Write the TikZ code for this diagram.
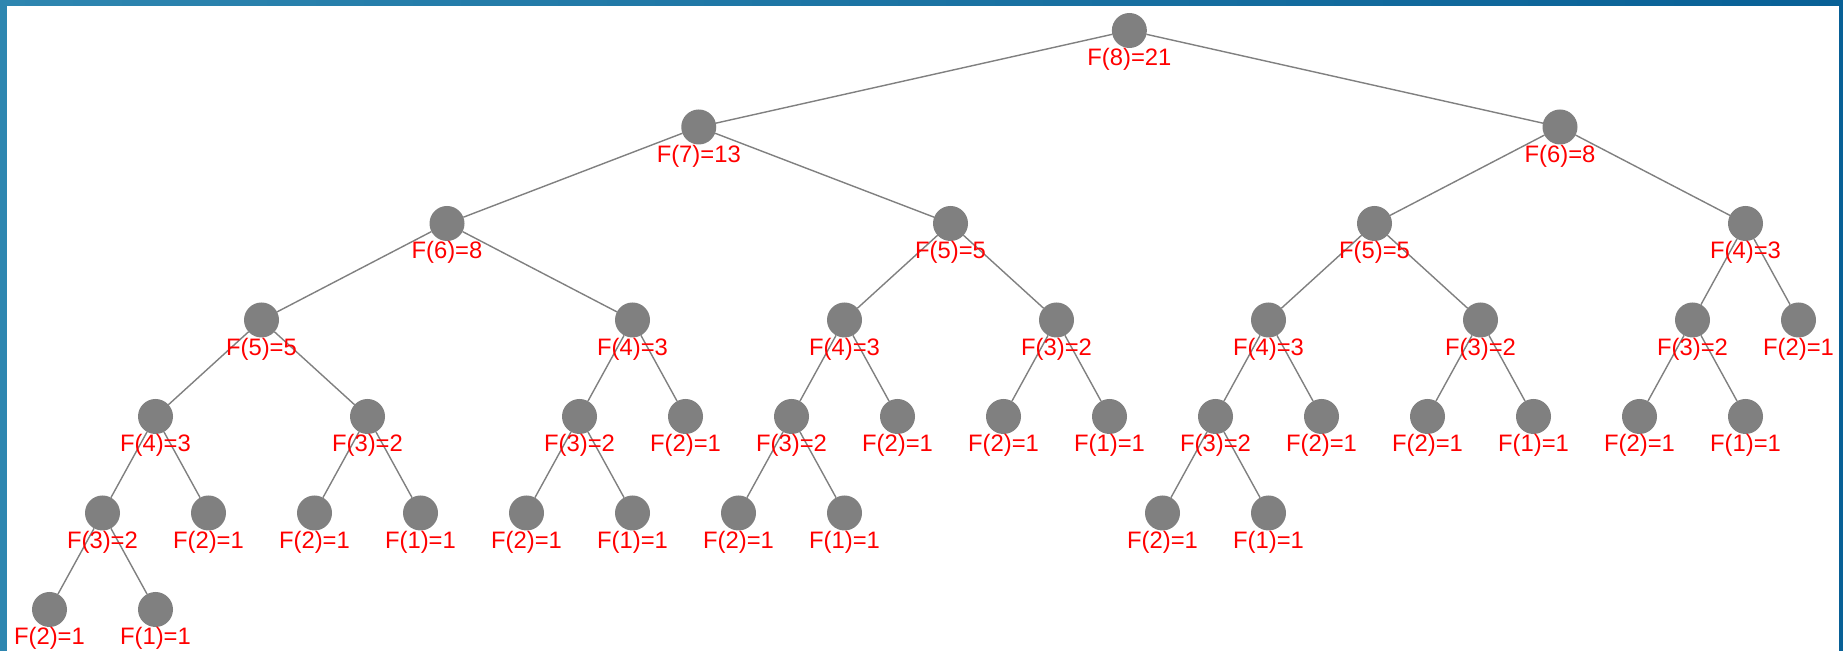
\documentclass[tikz,border=0pt]{standalone}
\usepackage{fontspec}
\setmainfont{Liberation Sans}
\usetikzlibrary{backgrounds}
\definecolor{nodegray}{RGB}{128,128,128}
\definecolor{labelred}{RGB}{255,0,0}
\definecolor{frameleft}{RGB}{46,134,176}
\definecolor{frameright}{RGB}{8,96,150}
\tikzset{
  fnode/.style={circle, fill=nodegray, minimum size=17.5pt, inner sep=0pt, outer sep=0pt, label distance=3.5pt},
  every label/.style={text=labelred, inner sep=0pt, font=\fontsize{11.9}{14}\selectfont},
  edge/.style={draw=nodegray, line width=0.7pt}
}
\begin{document}
\begin{tikzpicture}[x=0.5pt, y=-0.5pt]
        \useasboundingbox (0,0) rectangle (1843,651);
        % Frame
        \begin{scope}[on background layer]
          \shade[left color=frameleft, right color=frameright] (0,0) rectangle (1843,651);
          \fill[white] (7,6) rectangle (1839,651);
        \end{scope}

        \begin{scope}[xshift=24.75pt, yshift=-15.25pt, x=26.5pt, y=-48.25pt]
        % Level 0
        \node[fnode, label={below:F(8)=21}] (root) at (20.375,0) {};
        % Level 1
        \node[fnode, label={below:F(7)=13}] (l) at (12.25,1) {};
        \node[fnode, label={below:F(6)=8}] (r) at (28.5,1) {};
        % Level 2
        \node[fnode, label={below:F(6)=8}] (ll) at (7.5,2) {};
        \node[fnode, label={below:F(5)=5}] (lr) at (17,2) {};
        \node[fnode, label={below:F(5)=5}] (rl) at (25,2) {};
        \node[fnode, label={below:F(4)=3}] (rr) at (32,2) {};
        % Level 3
        \node[fnode, label={below:F(5)=5}] (lll) at (4,3) {};
        \node[fnode, label={below:F(4)=3}] (llr) at (11,3) {};
        \node[fnode, label={below:F(4)=3}] (lrl) at (15,3) {};
        \node[fnode, label={below:F(3)=2}] (lrr) at (19,3) {};
        \node[fnode, label={below:F(4)=3}] (rll) at (23,3) {};
        \node[fnode, label={below:F(3)=2}] (rlr) at (27,3) {};
        \node[fnode, label={below:F(3)=2}] (rrl) at (31,3) {};
        \node[fnode, label={below:F(2)=1}] (rrr) at (33,3) {};
        % Level 4
        \node[fnode, label={below:F(4)=3}] (llll) at (2,4) {};
        \node[fnode, label={below:F(3)=2}] (lllr) at (6,4) {};
        \node[fnode, label={below:F(3)=2}] (llrl) at (10,4) {};
        \node[fnode, label={below:F(2)=1}] (llrr) at (12,4) {};
        \node[fnode, label={below:F(3)=2}] (lrll) at (14,4) {};
        \node[fnode, label={below:F(2)=1}] (lrlr) at (16,4) {};
        \node[fnode, label={below:F(2)=1}] (lrrl) at (18,4) {};
        \node[fnode, label={below:F(1)=1}] (lrrr) at (20,4) {};
        \node[fnode, label={below:F(3)=2}] (rlll) at (22,4) {};
        \node[fnode, label={below:F(2)=1}] (rllr) at (24,4) {};
        \node[fnode, label={below:F(2)=1}] (rlrl) at (26,4) {};
        \node[fnode, label={below:F(1)=1}] (rlrr) at (28,4) {};
        \node[fnode, label={below:F(2)=1}] (rrll) at (30,4) {};
        \node[fnode, label={below:F(1)=1}] (rrlr) at (32,4) {};
        % Level 5
        \node[fnode, label={below:F(3)=2}] (lllll) at (1,5) {};
        \node[fnode, label={below:F(2)=1}] (llllr) at (3,5) {};
        \node[fnode, label={below:F(2)=1}] (lllrl) at (5,5) {};
        \node[fnode, label={below:F(1)=1}] (lllrr) at (7,5) {};
        \node[fnode, label={below:F(2)=1}] (llrll) at (9,5) {};
        \node[fnode, label={below:F(1)=1}] (llrlr) at (11,5) {};
        \node[fnode, label={below:F(2)=1}] (lrlll) at (13,5) {};
        \node[fnode, label={below:F(1)=1}] (lrllr) at (15,5) {};
        \node[fnode, label={below:F(2)=1}] (rllll) at (21,5) {};
        \node[fnode, label={below:F(1)=1}] (rlllr) at (23,5) {};
        % Level 6
        \node[fnode, label={below:F(2)=1}] (llllll) at (0,6) {};
        \node[fnode, label={below:F(1)=1}] (lllllr) at (2,6) {};
        \end{scope}

        % Connecting lines
        \begin{scope}[on background layer]
          \draw[edge] (root) -- (l) (root) -- (r);
          \draw[edge] (l) -- (ll) (l) -- (lr);
          \draw[edge] (r) -- (rl) (r) -- (rr);
          \draw[edge] (ll) -- (lll) (ll) -- (llr);
          \draw[edge] (lr) -- (lrl) (lr) -- (lrr);
          \draw[edge] (rl) -- (rll) (rl) -- (rlr);
          \draw[edge] (rr) -- (rrl) (rr) -- (rrr);
          \draw[edge] (lll) -- (llll) (lll) -- (lllr);
          \draw[edge] (llr) -- (llrl) (llr) -- (llrr);
          \draw[edge] (lrl) -- (lrll) (lrl) -- (lrlr);
          \draw[edge] (lrr) -- (lrrl) (lrr) -- (lrrr);
          \draw[edge] (rll) -- (rlll) (rll) -- (rllr);
          \draw[edge] (rlr) -- (rlrl) (rlr) -- (rlrr);
          \draw[edge] (rrl) -- (rrll) (rrl) -- (rrlr);
          \draw[edge] (llll) -- (lllll) (llll) -- (llllr);
          \draw[edge] (lllr) -- (lllrl) (lllr) -- (lllrr);
          \draw[edge] (llrl) -- (llrll) (llrl) -- (llrlr);
          \draw[edge] (lrll) -- (lrlll) (lrll) -- (lrllr);
          \draw[edge] (rlll) -- (rllll) (rlll) -- (rlllr);
          \draw[edge] (lllll) -- (llllll) (lllll) -- (lllllr);
        \end{scope}
    \end{tikzpicture}
\end{document}
